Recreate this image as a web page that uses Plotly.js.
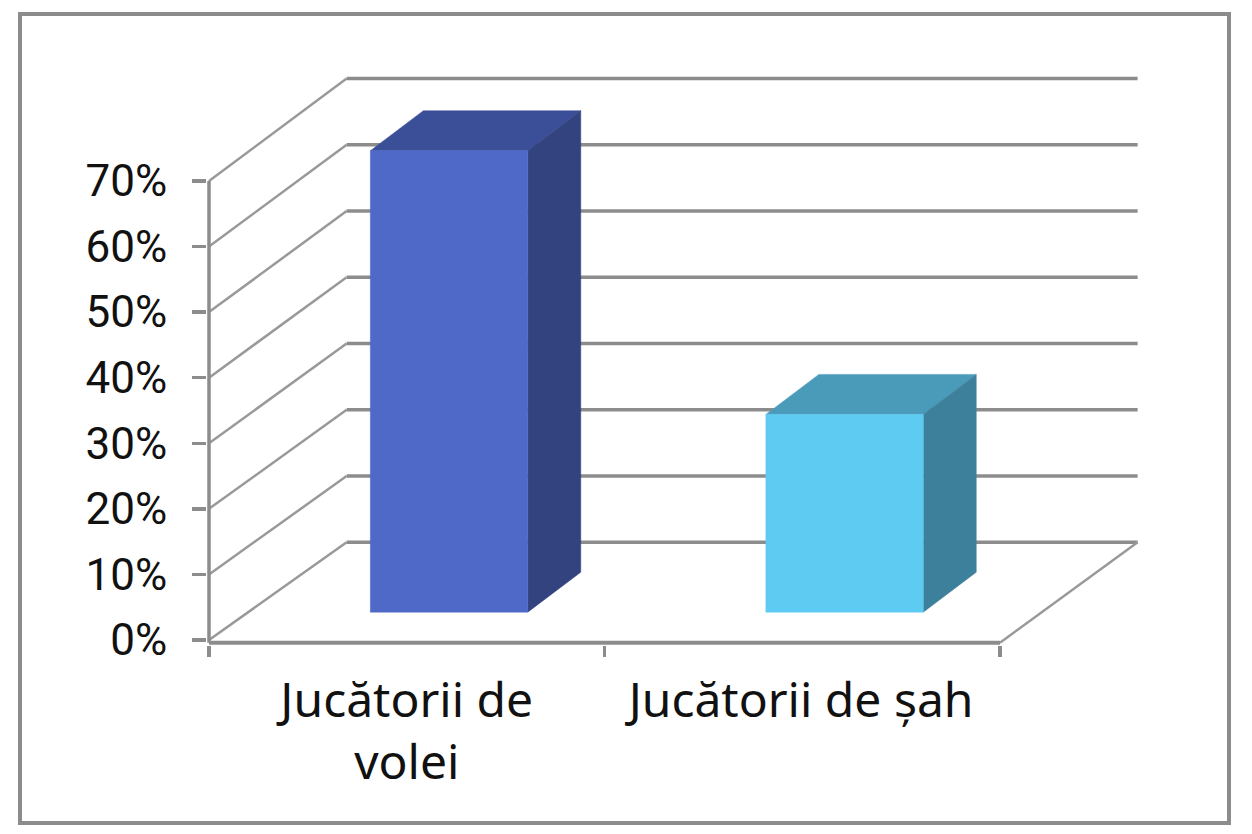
<!DOCTYPE html>
<html>
<head>
<meta charset="utf-8">
<script src="https://cdn.plot.ly/plotly-3.0.1.min.js"></script>
<style>html,body{margin:0;padding:0;background:#fff}#chart{width:1252px;height:834px}</style>
</head>
<body>
<div id="chart"></div>
<script>
// Data
const categories = ['Jucătorii de<br>volei', 'Jucătorii de șah'];
const values = [70, 30];
const yTicks = [0, 10, 20, 30, 40, 50, 60, 70];
const yTickLabels = ['0%', '10%', '20%', '30%', '40%', '50%', '60%', '70%'];
const frontColors = ['#4F69C8', '#5DCBF2'];
const topColors = ['#3A4F98', '#4A9BBA'];
const sideColors = ['#33437F', '#3C809C'];

// 3D projection expressed in axis units
const wallDx = 0.348, wallDy = 14.9;      // depth of the chart box
const wallScale = 1.01;                   // slight perspective of the back wall
const barDx = 0.134, barDy = 6.1;         // depth of a bar
const barLift = 4.25;                     // bar base sits inside the floor
const barScale = 1.005;
const barInset = 0.408, barWidth = 0.398; // bar position inside its category
const nCat = categories.length;
const gridColor = '#8c8c8c';

const line = (x, y, w, c) => ({
  type: 'scatter', mode: 'lines', x, y, hoverinfo: 'skip',
  line: {color: c || gridColor, width: w, simplify: false}
});
const poly = (x, y, color) => ({
  type: 'scatter', mode: 'lines', x, y, fill: 'toself', fillcolor: color,
  hoverinfo: 'skip', line: {color, width: 0.5}
});

const traces = [];
// Walls and floor
yTicks.forEach(v => {
  const back = v * wallScale + wallDy;
  traces.push(line([0, wallDx], [v, back], 2.5, '#999999'));
  traces.push(line([wallDx, nCat + wallDx], [back, back], 3.5));
});
traces.push(line([nCat, nCat + wallDx], [-0.4, wallDy], 2.5, '#999999'));
// Axis lines
traces.push(line([0, 0], [-0.4, yTicks[yTicks.length - 1]], 3.5));
traces.push(line([0, nCat], [-0.4, -0.4], 4));
// Bars
values.forEach((v, i) => {
  const x0 = i + barInset, x1 = x0 + barWidth;
  const y0 = barLift, y1 = barLift + v * barScale;
  traces.push(poly([x0, x1, x1 + barDx, x0 + barDx, x0], [y1, y1, y1 + barDy, y1 + barDy, y1], topColors[i]));
  traces.push(poly([x1, x1 + barDx, x1 + barDx, x1, x1], [y0, y0 + barDy, y1 + barDy, y1, y0], sideColors[i]));
  traces.push(poly([x0, x1, x1, x0, x0], [y0, y0, y1, y1, y0], frontColors[i]));
});

const xFont = {family: '"Noto Sans", sans-serif', size: 48, color: '#111'};
const yFont = {family: 'Roboto, "Noto Sans", sans-serif', size: 44, color: '#111'};
const tickCenters = [0.5, 1.497];
const layout = {
  width: 1252, height: 834,
  paper_bgcolor: '#fff', plot_bgcolor: 'rgba(0,0,0,0)',
  showlegend: false,
  margin: {l: 207, r: 112, t: 74, b: 189},
  xaxis: {
    range: [-2 / 395.5, 2.354], fixedrange: true, showgrid: false, zeroline: false, showline: false,
    tickmode: 'array', tickvals: tickCenters, ticktext: categories,
    ticks: '', ticklen: 0, tickfont: xFont, ticklabelstandoff: 23,
    minor: {tickmode: 'array', tickvals: [0, 1, 2], ticks: 'outside', ticklen: 11, tickwidth: 3.5, tickcolor: gridColor, showgrid: false}
  },
  yaxis: {
    range: [-0.76, 86.3], fixedrange: true, showgrid: false, zeroline: false, showline: false,
    tickmode: 'array', tickvals: yTicks, ticktext: yTickLabels,
    ticks: 'outside', ticklen: 14, tickwidth: 3.5, tickcolor: gridColor, tickfont: yFont, ticklabelstandoff: 16
  },
  shapes: [{
    type: 'rect', xref: 'paper', yref: 'paper', layer: 'below',
    x0: -187 / 933, x1: 1022 / 933, y0: -178 / 571, y1: 631 / 571,
    line: {color: gridColor, width: 4}, fillcolor: 'rgba(0,0,0,0)'
  }]
};
Plotly.newPlot('chart', traces, layout, {displayModeBar: false, staticPlot: true});
</script>
</body>
</html>
